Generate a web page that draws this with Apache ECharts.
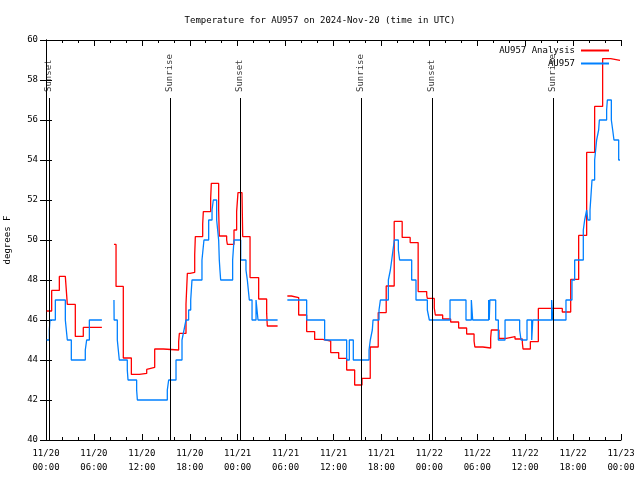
<!DOCTYPE html>
<html>
<head>
<meta charset="utf-8">
<script src="https://cdn.jsdelivr.net/npm/echarts@6/dist/echarts.min.js"></script>
<style>html,body{margin:0;padding:0;background:#fff}#c{width:640px;height:480px}</style>
</head>
<body>
<div id="c"></div>
<script>
// hours since 2024-11-20 00:00 UTC, temperature in degrees F
const analysisTemp = [
[0.08,46.45],[0.71,47.48],[1.67,48.18],[2.42,48.13],[2.67,46.78],[3.67,45.18],[4.67,45.63],[5.43,45.63],
[7,null],
[8.51,49.78],[8.77,47.68],[9.68,44.1],[10.69,43.28],[11.69,43.33],[12.61,43.53],[12.69,43.63],[13.61,44.55],[14.69,44.5],[16.61,44.92],[16.70,45.33],[17.53,46.8],[17.70,48.33],[18.03,48.38],[18.62,49.28],[18.70,50.17],[19.62,50.8],[19.70,51.42],[20.62,52.08],[20.70,52.83],[21.62,51.5],[21.70,50.2],[22.62,50.0],[22.71,49.78],[23.54,50.5],[23.87,51.42],[24.04,52.37],[24.54,52.33],[24.63,50.17],[25.55,48.12],[26.63,47.05],[27.63,46.33],[27.71,45.7],[28.13,45.7],
[29,null],
[30.22,47.2],[30.72,47.12],[31.64,46.25],[32.64,45.42],[33.64,45.03],[34.64,44.95],[35.65,44.37],[36.65,44.08],[37.65,43.5],[38.65,42.75],[39.57,43.08],[40.6,44.65],[41.6,46.37],[42.6,47.7],[43.6,50.93],[44.6,50.13],[45.6,49.87],[46.6,47.42],[47.67,47.25],[47.75,47.08],[48.62,46.6],[48.75,46.25],[49.67,46.05],[50.67,45.9],[51.67,45.6],[52.67,45.3],[53.6,44.95],[53.7,44.65],[54.7,44.6],[55.68,45.1],[55.76,45.5],[56.72,45.08],[57.64,45.17],[58.73,45.05],[59.65,44.85],[59.73,44.55],[60.65,44.92],[61.65,46.58],[64.65,46.4],[65.70,48.03],[66.70,50.23],[67.70,54.38],[68.70,56.68],[69.70,59.07],[70.71,58.98],[71.88,58.98]
];
const observedTemp = [
[0.08,45],[0.42,45.5],[0.5,46],[1.17,47],[2.42,46],[2.67,45],[3.17,44],[4.92,44.5],[5.09,45],[5.43,46],
[7,null],
[8.51,47],[8.53,46],[8.93,45],[9.18,44],[10.18,43.5],[10.27,43],[11.35,42.5],[11.44,42],[15.19,42.5],[15.36,43],[16.28,44],[17.03,45],[17.28,45.5],[17.53,46],[17.86,46.5],[18.12,47],[18.28,48],[19.53,49],[19.78,50],[20.37,51],[20.79,51.5],[20.95,52],[21.37,51],[21.62,50],[21.70,49],[21.78,48.5],[21.87,48],[23.37,49],[23.54,50],[24.38,49],[25.04,48.5],[25.21,48],[25.46,47],[25.80,46],[26.30,47],[26.55,46],[28.13,46],
[29,null],
[30.22,47],[32.64,46],[34.89,45],[37.65,44],[37.98,45],[38.48,44],[40.45,44.5],[40.61,45],[40.86,45.5],[40.95,46],[41.70,46.5],[41.87,47],[42.87,48],[43.12,48.5],[43.29,49],[43.45,49.5],[43.62,50],[44.12,49.5],[44.28,49],[45.79,48],[46.33,47],[47.75,46.5],[48.0,46],[50.59,47],[52.59,46],[53.26,47],[53.43,46],[55.43,47],[55.5,46],[55.58,47],[56.31,46],[56.64,45],[57.48,46],[59.31,45.5],[59.48,45],[60.23,46],[60.82,45],[60.95,46],[63.32,47],[63.45,46],[65.11,47],[65.86,48],[66.20,49],[67.28,50.5],[67.45,51],[67.70,51.5],[67.85,51],[68.12,51.5],[68.37,53],[68.70,54],[68.95,55],[69.20,55.5],[69.29,56],[70.20,56.5],[70.29,57],[70.79,56],[70.96,55.5],[71.12,55],[71.71,54],[71.88,54]
];
const sunEventTimes = [0.38, 15.53, 24.29, 39.44, 48.33, 63.49];
const sunEventNames = ['Sunset', 'Sunrise', 'Sunset', 'Sunrise', 'Sunset', 'Sunrise'];
const xTickLabels = ['11/20\n00:00','11/20\n06:00','11/20\n12:00','11/20\n18:00','11/21\n00:00','11/21\n06:00','11/21\n12:00','11/21\n18:00','11/22\n00:00','11/22\n06:00','11/22\n12:00','11/22\n18:00','11/23\n00:00'];
const seriesNames = ['AU957 Analysis', 'AU957'];
const titleText = 'Temperature for AU957 on 2024-Nov-20 (time in UTC)';
const yAxisName = 'degrees F';

const FONT = 'DejaVu Sans Mono';
const txt = {fontFamily: FONT, fontSize: 9, color: '#000'};
const lineTop = 57.1, labelBase = 57.4;

const chart = echarts.init(document.getElementById('c'), null, {renderer: 'canvas'});
const baseX = {
  type: 'value', min: 0, max: 72, interval: 6,
  axisLine: {show: true, lineStyle: {color: '#000', width: 1}},
  axisTick: {show: true, inside: true, length: 6, lineStyle: {color: '#000'}},
  minorTick: {show: true, splitNumber: 3, length: 3, lineStyle: {color: '#000'}},
  splitLine: {show: false}
};
const baseY = {
  type: 'value', min: 40, max: 60, interval: 2,
  axisLine: {show: true, lineStyle: {color: '#000', width: 1}},
  axisTick: {show: true, inside: true, length: 6, lineStyle: {color: '#000'}},
  splitLine: {show: false}
};
chart.setOption({
  animation: false,
  backgroundColor: '#fff',
  title: {text: titleText, left: 'center', top: 11, textStyle: Object.assign({fontWeight: 'normal'}, txt)},
  grid: {left: 46, right: 19, top: 40, bottom: 40, show: false, containLabel: false, outerBoundsMode: 'none'},
  legend: {
    orient: 'vertical', right: 26, top: 41, align: 'right', itemGap: 4,
    itemWidth: 28, itemHeight: 2, icon: 'rect',
    textStyle: Object.assign({padding: [0, 1, 0, 0]}, txt),
    data: seriesNames
  },
  xAxis: [
    Object.assign({}, baseX, {position: 'bottom', axisLabel: Object.assign({margin: 7, lineHeight: 14, formatter: v => xTickLabels[Math.round(v / 6)]}, txt)}),
    Object.assign({}, baseX, {position: 'top', axisLabel: {show: false}})
  ],
  yAxis: [
    Object.assign({}, baseY, {position: 'left', name: yAxisName, nameLocation: 'middle', nameGap: 34, nameTextStyle: txt, axisLabel: Object.assign({margin: 8}, txt)}),
    Object.assign({}, baseY, {position: 'right', axisLabel: {show: false}})
  ],
  series: [
    {
      name: seriesNames[0], type: 'line', step: 'end', data: analysisTemp, showSymbol: false, symbol: 'none',
      connectNulls: false, color: '#ff0000', lineStyle: {color: '#ff0000', width: 1.3}, z: 3
    },
    {
      name: seriesNames[1], type: 'line', step: 'end', data: observedTemp, showSymbol: false, symbol: 'none',
      connectNulls: false, color: '#0080ff', lineStyle: {color: '#0080ff', width: 1.3}, z: 4
    },
    {
      name: 'sun', type: 'scatter', symbolSize: 0, silent: true, z: 5,
      data: sunEventTimes.map((t, i) => ({value: [t, labelBase], name: sunEventNames[i]})),
      label: Object.assign({show: true, position: 'inside', rotate: 90, align: 'left', verticalAlign: 'middle', formatter: p => p.name}, txt),
      markLine: {
        silent: true, symbol: ['none', 'none'], label: {show: false},
        lineStyle: {color: '#000', width: 1, type: 'solid'},
        data: sunEventTimes.map(t => [{coord: [t, 40]}, {coord: [t, lineTop]}])
      }
    }
  ]
});
</script>
</body>
</html>
